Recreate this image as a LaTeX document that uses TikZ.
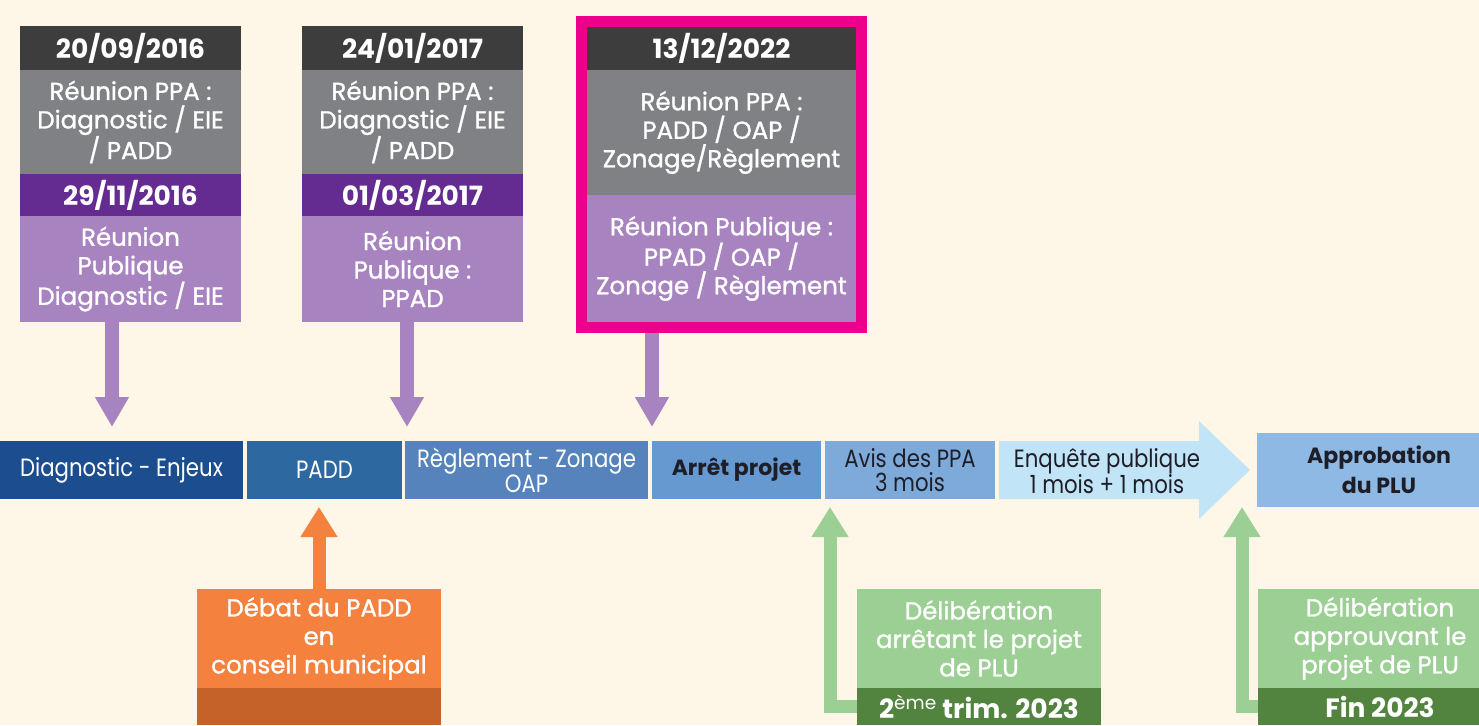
\documentclass[tikz,border=0pt]{standalone}
\usepackage{fontspec}
\setmainfont{Poppins}
\newfontfamily\stagefont[FakeStretch=0.85]{Poppins}
\newfontfamily\cellfont[FakeBold=1.2]{Poppins}
\usepackage{tikz}
\usetikzlibrary{shapes, arrows.meta, calc, fit, positioning}
\definecolor{bgcream}{HTML}{FEF6E7}
\definecolor{hdgray}{HTML}{3D3D3D}
\definecolor{ppagray}{HTML}{808184}
\definecolor{dpurple}{HTML}{642C90}
\definecolor{lpurple}{HTML}{A783BF}
\definecolor{framepink}{HTML}{EC008C}
\definecolor{tlA}{HTML}{1C4D8F}
\definecolor{tlB}{HTML}{2E68A1}
\definecolor{tlC}{HTML}{5683BB}
\definecolor{tlD}{HTML}{6699CF}
\definecolor{tlE}{HTML}{7EAAD9}
\definecolor{tlF}{HTML}{C2E4F7}
\definecolor{tlG}{HTML}{8DB9E4}
\definecolor{tldark}{HTML}{1E1E28}
\definecolor{lorange}{HTML}{F4823E}
\definecolor{dorange}{HTML}{C4622A}
\definecolor{lgreen}{HTML}{9BCF94}
\definecolor{dgreen}{HTML}{52843F}
\tikzstyle{cell} = [rectangle, inner sep=0pt, outer sep=0pt, text=white,
    align=center]
\tikzstyle{datecell} = [cell, font=\fontsize{26.5}{30}\selectfont\bfseries]
\tikzstyle{textcell} = [cell, font=\cellfont\fontsize{24.5}{28.5}\selectfont]
\tikzstyle{stage} = [cell, minimum height=58pt,
    font=\stagefont\fontsize{25}{24}\selectfont]
\tikzstyle{purplearrow} = [draw=lpurple, line width=14pt,
    -{Triangle[width=32pt, length=30pt]}]
\tikzstyle{orangearrow} = [draw=lorange, line width=13pt,
    -{Triangle[width=35pt, length=30pt]}]
\tikzstyle{greenarrow} = [draw=lgreen, line width=13pt,
    -{Triangle[width=35pt, length=30pt]}]
\begin{document}
\begin{tikzpicture}[x=1pt, y=-1pt,
    narrowCol/.style={minimum width=221pt},
    wideCol/.style={minimum width=269pt},
    footCol/.style={minimum width=244pt}
    ]
    \useasboundingbox[fill=bgcream] (0,0) rectangle (1479,725);

    % Meetings
    \node [datecell, narrowCol, fill=hdgray, minimum height=44pt] (date1) at (130.5,48) {20/09/2016};
    \node [textcell, narrowCol, fill=ppagray, minimum height=104pt, below=0pt of date1] (ppa1) {Réunion PPA :\\Diagnostic / EIE\\/ PADD};
    \node [datecell, narrowCol, fill=dpurple, minimum height=42pt, below=0pt of ppa1] (date2) {29/11/2016};
    \node [textcell, narrowCol, fill=lpurple, minimum height=106pt, below=0pt of date2] (pub1) {Réunion\\Publique\\Diagnostic / EIE};

    \node [datecell, narrowCol, fill=hdgray, minimum height=44pt] (date3) at (412.5,48) {24/01/2017};
    \node [textcell, narrowCol, fill=ppagray, minimum height=104pt, below=0pt of date3] (ppa2) {Réunion PPA :\\Diagnostic / EIE\\/ PADD};
    \node [datecell, narrowCol, fill=dpurple, minimum height=42pt, below=0pt of ppa2] (date4) {01/03/2017};
    \node [textcell, narrowCol, fill=lpurple, minimum height=106pt, below=0pt of date4] (pub2) {Réunion\\Publique :\\PPAD};

    \node [datecell, wideCol, fill=hdgray, minimum height=43pt] (date5) at (721.5,48.5) {13/12/2022};
    \node [textcell, wideCol, fill=ppagray, minimum height=125pt, below=0pt of date5] (ppa3) {Réunion PPA :\\PADD / OAP /\\Zonage/Règlement};
    \node [textcell, wideCol, fill=lpurple, minimum height=127pt, below=0pt of ppa3] (pub3) {Réunion Publique :\\PPAD / OAP /\\Zonage / Règlement};
    \node [draw=framepink, line width=11pt, inner sep=5.5pt, fit=(date5) (pub3)] (frame) {};

    % Timeline
    \node [stage, fill=tlA, minimum width=243pt] (diag) at (121.5,470) {Diagnostic - Enjeux};
    \node [stage, fill=tlB, minimum width=155pt, right=4pt of diag] (padd) {PADD};
    \node [stage, fill=tlC, minimum width=243pt, right=3pt of padd] (regl) {Règlement - Zonage\\OAP};
    \node [stage, fill=tlD, minimum width=169pt, right=4pt of regl, text=tldark,
        font=\fontsize{22}{24}\selectfont\bfseries] (arret) {Arrêt projet};
    \node [stage, fill=tlE, minimum width=170pt, right=4pt of arret, text=tldark] (avis) {Avis des PPA\\3 mois};
    \fill[tlF] (999,441) -- (1199,441) -- (1199,421) -- (1250,470) --
          (1199,519) -- (1199,499) -- (999,499) -- cycle;
    \node [stage, text=tldark] (enq) at (1107,471) {Enquête publique\\1 mois + 1 mois};
    \node [cell, footCol, fill=tlG, minimum height=74pt, text=tldark,
        font=\fontsize{22}{30}\selectfont\bfseries] (appro) at (1379,470) {Approbation\\du PLU};

    % Council
    \node [textcell, footCol, fill=lorange, minimum height=99pt] (debat) at (319,638.5) {Débat du PADD\\en\\conseil municipal};
    \node [cell, footCol, fill=dorange, minimum height=37pt, below=0pt of debat] (debatfoot) {};
    \node [textcell, footCol, fill=lgreen, minimum height=99pt] (delib1) at (979,638.5) {Délibération\\arrêtant le projet\\de PLU};
    \node [datecell, footCol, fill=dgreen, minimum height=37pt, below=0pt of delib1] (when1) {2\textsuperscript{\mdseries ème} trim. 2023};
    \node [textcell, footCol, fill=lgreen, minimum height=99pt] (delib2) at (1380,638.5) {Délibération\\approuvant le\\projet de PLU};
    \node [datecell, footCol, fill=dgreen, minimum height=37pt, below=0pt of delib2] (when2) {Fin 2023};

    % Edges
    \coordinate (t1) at (112,427);
    \coordinate (t2) at (407,427);
    \coordinate (t3) at (652,427);
    \coordinate (t4) at (319,507);
    \coordinate (t5) at (830,507);
    \coordinate (t6) at (1242,507);
    \draw [purplearrow] (pub1.south -| t1) -- (t1);
    \draw [purplearrow] (pub2.south -| t2) -- (t2);
    \draw [purplearrow] (frame.south -| t3) -- (t3);
    \draw [orangearrow] (debat.north) -- (t4);
    \draw [greenarrow] (when1.west) -| (t5);
    \draw [greenarrow] (when2.west) -| (t6);
\end{tikzpicture}
\end{document}
